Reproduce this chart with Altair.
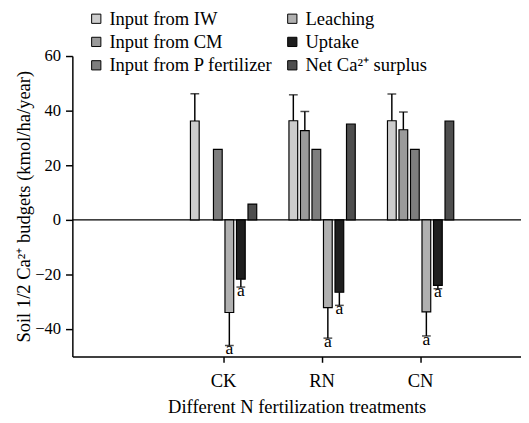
import altair as alt
import pandas as pd

treatments = ["CK", "RN", "CN"]
components = ["Input from IW", "Input from CM", "Input from P fertilizer",
              "Leaching", "Uptake", "Net Ca²⁺ surplus"]
colors = {"Input from IW": "#cdcdcd", "Input from CM": "#9a9a9a",
          "Input from P fertilizer": "#7e7e7e", "Leaching": "#b0b0b0",
          "Uptake": "#1e1e1e", "Net Ca²⁺ surplus": "#4e4e4e"}

iw = [36.2, 36.3, 36.3]
iw_err = [10.0, 9.5, 9.8]
cm = [None, 32.7, 33.0]
cm_err = [None, 7.0, 6.5]
pf = [25.8, 25.8, 25.8]
leach = [-33.9, -32.1, -33.7]
leach_err = [12.1, 11.2, 8.8]
uptake = [-21.7, -26.5, -24.0]
uptake_err = [2.9, 4.8, 1.2]
net = [5.8, 35.1, 36.2]
letters_leach = ["a", "a", "a"]
letters_uptake = ["a", "a", "a"]

series = {
    "Input from IW": (iw, iw_err, [None] * 3),
    "Input from CM": (cm, cm_err, [None] * 3),
    "Input from P fertilizer": (pf, [None] * 3, [None] * 3),
    "Leaching": (leach, leach_err, letters_leach),
    "Uptake": (uptake, uptake_err, letters_uptake),
    "Net Ca²⁺ surplus": (net, [None] * 3, [None] * 3),
}
rows = []
for comp, (vals, errs, lets) in series.items():
    for t, v, e, l in zip(treatments, vals, errs, lets):
        if v is None:
            continue
        end = None if e is None else (v + e if v >= 0 else v - e)
        rows.append({"treatment": t, "component": comp, "value": v,
                     "err_end": end, "letter": l})
df = pd.DataFrame(rows)

FONT = "Liberation Serif"

x = alt.X("treatment:N", sort=treatments,
          scale=alt.Scale(paddingInner=0, paddingOuter=0.777, align=0.666),
          axis=alt.Axis(title="Different N fertilization treatments", labelAngle=0,
                        labelFontSize=19, titleFontSize=19, titleFontWeight="normal",
                        labelFont=FONT, titleFont=FONT, tickSize=6, labelPadding=10,
                        titlePadding=8, domainColor="black", tickColor="black",
                        labelColor="black", titleColor="black", domainWidth=1.5,
                        tickWidth=1.5))
offset_domain = ["_l"] + components + ["_r"]
xo = alt.XOffset("component:N",
                 scale=alt.Scale(domain=offset_domain, paddingInner=0.24, paddingOuter=0.4))
y_scale = alt.Scale(domain=[-50, 60], nice=False, zero=False)

base = alt.Chart(df)

bars = base.mark_bar(stroke="black", strokeWidth=1.2).encode(
    x=x, xOffset=xo,
    y=alt.Y("value:Q", scale=y_scale,
            axis=alt.Axis(title="Soil 1/2 Ca²⁺ budgets (kmol/ha/year)",
                          values=[-40, -20, 0, 20, 40, 60], grid=False,
                          labelFontSize=17, titleFontSize=19, titleFontWeight="normal",
                          labelFont=FONT, titleFont=FONT, tickSize=7, labelPadding=5,
                          titlePadding=1, domainColor="black", tickColor="black",
                          labelColor="black", titleColor="black", domainWidth=1.5,
                          tickWidth=1.5)),
    y2=alt.datum(0),
    color=alt.Color("component:N",
                    scale=alt.Scale(domain=components,
                                    range=[colors[c] for c in components]),
                    legend=alt.Legend(title=None, orient="none", legendX=15, legendY=-48,
                                      columns=2, symbolType="square", symbolSize=90,
                                      symbolStrokeColor="black", symbolStrokeWidth=1,
                                      symbolOpacity=1,
                                      labelFont=FONT, labelFontSize=19, labelColor="black",
                                      labelOffset=4, rowPadding=4, columnPadding=10,
                                      labelLimit=300)),
)

err_df = base.transform_filter("datum.err_end != null")
err_rule = err_df.mark_rule(color="black", strokeWidth=1.5).encode(
    x=x, xOffset=xo, y=alt.Y("value:Q", scale=y_scale), y2="err_end:Q")
err_cap = err_df.mark_tick(color="black", thickness=1.5, size=9).encode(
    x=x, xOffset=xo, y=alt.Y("err_end:Q", scale=y_scale))
letters = base.transform_filter("datum.letter != null").mark_text(
    font=FONT, fontSize=18, baseline="top", dy=-5, color="black").encode(
    x=x, xOffset=xo, y=alt.Y("err_end:Q", scale=y_scale), text="letter:N")

zero = alt.Chart(pd.DataFrame({"z": [0]})).mark_rule(color="black", strokeWidth=1.2).encode(
    y=alt.Y("z:Q", scale=y_scale))

chart = alt.layer(zero, bars, err_rule, err_cap, letters).properties(
    width=460, height=308,
    autosize=alt.AutoSizeParams(type="none"),
    padding={"left": 66, "top": 44, "right": 0, "bottom": 63},
).configure(font=FONT).configure_view(stroke=None).configure_axisX(grid=False)

chart.save("out.html", embed_options={"renderer": "svg", "actions": False})
